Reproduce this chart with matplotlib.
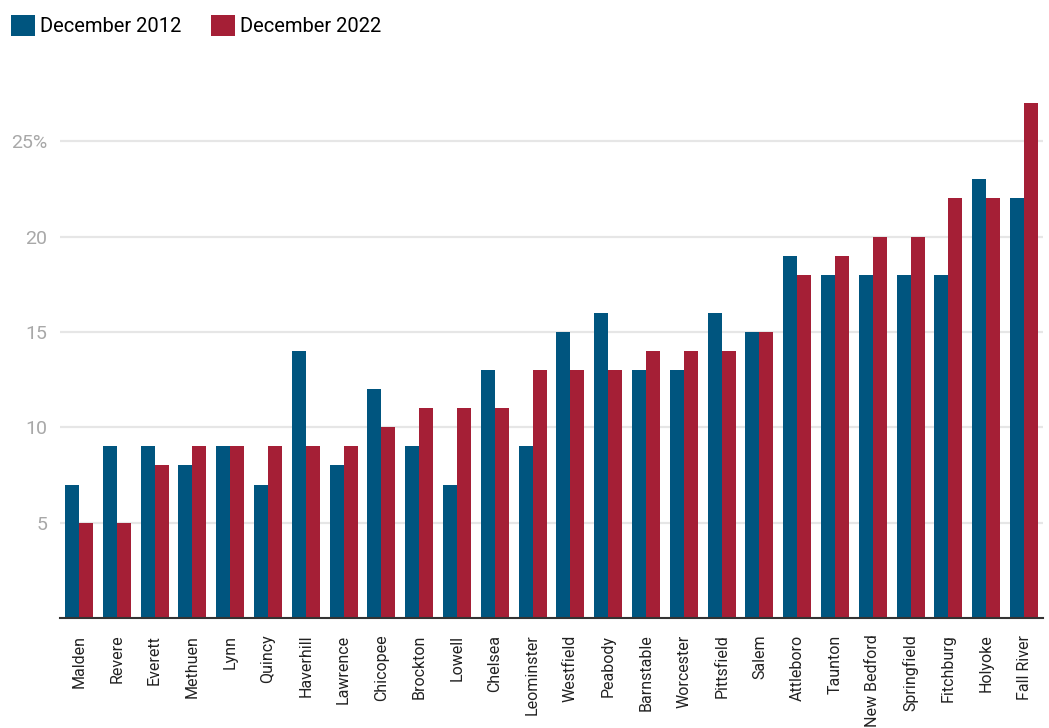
import matplotlib
matplotlib.use('Agg')
import matplotlib.pyplot as plt
import numpy as np

cities = ['Malden', 'Revere', 'Everett', 'Methuen', 'Lynn', 'Quincy', 'Haverhill',
          'Lawrence', 'Chicopee', 'Brockton', 'Lowell', 'Chelsea', 'Leominster',
          'Westfield', 'Peabody', 'Barnstable', 'Worcester', 'Pittsfield', 'Salem',
          'Attleboro', 'Taunton', 'New Bedford', 'Springfield', 'Fitchburg',
          'Holyoke', 'Fall River']
dec_2012 = [7, 9, 9, 8, 9, 7, 14, 8, 12, 9, 7, 13, 9, 15, 16, 13, 13, 16, 15,
            19, 18, 18, 18, 18, 23, 22]
dec_2022 = [5, 5, 8, 9, 9, 9, 9, 9, 10, 11, 11, 11, 13, 13, 13, 14, 14, 14, 15,
            18, 19, 20, 20, 22, 22, 27]
yticks = [5, 10, 15, 20, 25]
ytick_labels = ['5', '10', '15', '20', '25%']

plt.rcParams['font.family'] = ['Roboto', 'DejaVu Sans']

blue = '#00557f'
red = '#a51f36'

fig = plt.figure(figsize=(10.49, 7.28), dpi=100)
ax = fig.add_axes([60 / 1049, 1 - 618 / 728, 983 / 1049, (618 - 65) / 728])

x = np.arange(len(cities))
w = 0.37
ax.bar(x - w / 2, dec_2012, w, color=blue, label='December 2012', zorder=3)
ax.bar(x + w / 2, dec_2022, w, color=red, label='December 2022', zorder=3)

ax.set_xlim(-0.5, len(cities) - 0.5)
ax.set_ylim(0, 29)
ax.set_yticks(yticks)
ax.set_yticklabels(ytick_labels, color='#a8a8a8', fontsize=14)
ax.set_xticks(x)
ax.set_xticklabels(cities, rotation=90, fontsize=11.5, color='#222222')
ax.tick_params(axis='both', length=0)
ax.tick_params(axis='y', pad=9)
ax.tick_params(axis='x', pad=12)
ax.grid(axis='y', color='#e6e6e6', linewidth=1.6, zorder=0)
for s in ['top', 'right', 'left']:
    ax.spines[s].set_visible(False)
ax.spines['bottom'].set_color('#333333')
ax.spines['bottom'].set_linewidth(1.5)
ax.spines['bottom'].set_zorder(4)

fig.legend(loc='upper left', bbox_to_anchor=(-0.004, 1.0), ncol=2, frameon=False,
           fontsize=14.5, handlelength=1.2, handleheight=1.2, handletextpad=0.25,
           columnspacing=1.45, borderaxespad=0.35)

fig.savefig('out.png', dpi=100)
